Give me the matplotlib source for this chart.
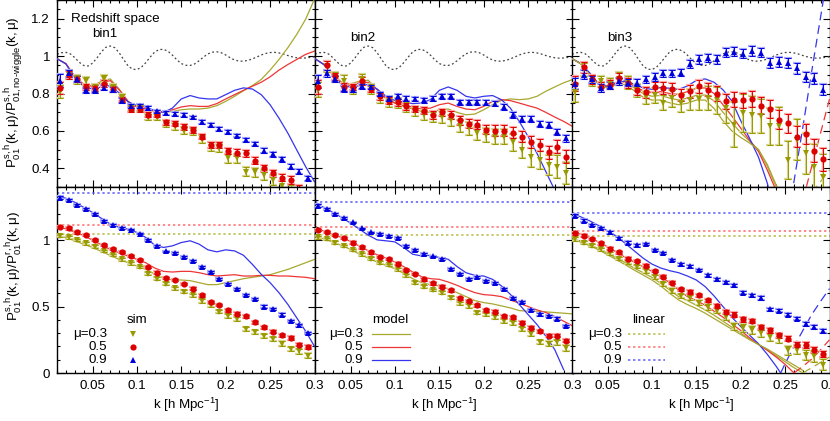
import matplotlib
matplotlib.use('Agg')
import matplotlib.pyplot as plt
from matplotlib.ticker import MultipleLocator, FuncFormatter

plt.rcParams['font.family'] = ['Liberation Sans', 'DejaVu Sans']
plt.rcParams['mathtext.fontset'] = 'custom'
plt.rcParams['mathtext.rm'] = 'Liberation Sans'
plt.rcParams['mathtext.it'] = 'Liberation Sans'
plt.rcParams['mathtext.bf'] = 'Liberation Sans:bold'

# ---- k grids ----
K_SIM = [0.013, 0.023, 0.033, 0.043, 0.053, 0.063, 0.073, 0.083, 0.093, 0.103,
         0.113, 0.123, 0.133, 0.143, 0.153, 0.163, 0.173, 0.183, 0.193, 0.203,
         0.213, 0.223, 0.233, 0.243, 0.253, 0.263, 0.273, 0.283, 0.293]
K_MODEL = [0.01, 0.02, 0.03, 0.04, 0.05, 0.06, 0.07, 0.08, 0.09, 0.10,
           0.11, 0.12, 0.13, 0.14, 0.15, 0.16, 0.17, 0.18, 0.19, 0.20,
           0.21, 0.22, 0.23, 0.24, 0.25, 0.26, 0.27, 0.28, 0.29, 0.30]
K_NW = [0.010, 0.015, 0.020, 0.025, 0.030, 0.035, 0.040, 0.045, 0.050, 0.055,
        0.060, 0.065, 0.070, 0.075, 0.080, 0.085, 0.090, 0.095, 0.100, 0.105,
        0.110, 0.115, 0.120, 0.125, 0.130, 0.135, 0.140, 0.145, 0.150, 0.155,
        0.160, 0.165, 0.170, 0.175, 0.180, 0.185, 0.190, 0.195, 0.200, 0.205,
        0.210, 0.215, 0.220, 0.225, 0.230, 0.235, 0.240, 0.245, 0.250, 0.255,
        0.260, 0.265, 0.270, 0.275, 0.280, 0.285, 0.290, 0.295, 0.300]

# linear P / P_no-wiggle (dotted grey, top row)
NW_RATIO = [1.010, 1.018, 1.020, 1.012, 0.992, 0.967, 0.950, 0.947, 0.962, 0.990,
            1.023, 1.047, 1.054, 1.045, 1.018, 0.982, 0.948, 0.930, 0.928, 0.940,
            0.965, 0.995, 1.022, 1.035, 1.036, 1.026, 1.005, 0.980, 0.960, 0.951,
            0.950, 0.958, 0.975, 0.995, 1.012, 1.021, 1.023, 1.018, 1.006, 0.991,
            0.979, 0.973, 0.973, 0.977, 0.985, 0.995, 1.006, 1.014, 1.019, 1.020,
            1.017, 1.011, 1.003, 0.996, 0.991, 0.989, 0.990, 0.993, 0.996]

# ---- simulation points, top row (ratio to no-wiggle) ----
T1_03 = [0.81, 0.90, 0.875, 0.866, 0.83, 0.878, 0.83, 0.776, 0.722, 0.722, 0.674, 0.674, 0.638, 0.624, 0.602,
         0.597, 0.556, 0.516, 0.507, 0.453, 0.453, 0.382, 0.378, 0.364, 0.337, 0.305, 0.28, 0.26, 0.24]
T1_05 = [0.83, 0.90, 0.878, 0.835, 0.83, 0.853, 0.824, 0.767, 0.717, 0.717, 0.686, 0.686, 0.645, 0.638, 0.62,
         0.606, 0.57, 0.525, 0.525, 0.495, 0.484, 0.48, 0.44, 0.40, 0.373, 0.35, 0.337, 0.29, 0.27]
T1_09 = [0.869, 0.907, 0.878, 0.817, 0.817, 0.83, 0.821, 0.762, 0.735, 0.735, 0.722, 0.704, 0.695, 0.69, 0.686,
         0.672, 0.647, 0.633, 0.611, 0.593, 0.575, 0.552, 0.529, 0.495, 0.475, 0.448, 0.409, 0.382, 0.346]
T2_03 = [0.82, 0.946, 0.889, 0.869, 0.824, 0.875, 0.824, 0.776, 0.753, 0.749, 0.728, 0.704, 0.686, 0.674, 0.674,
         0.656, 0.624, 0.615, 0.588, 0.579, 0.57, 0.57, 0.538, 0.498, 0.459, 0.444, 0.418, 0.409, 0.376]
T2_05 = [0.835, 0.95, 0.892, 0.835, 0.835, 0.866, 0.824, 0.785, 0.762, 0.753, 0.731, 0.717, 0.708, 0.686, 0.699,
         0.686, 0.656, 0.638, 0.633, 0.606, 0.602, 0.602, 0.591, 0.57, 0.543, 0.525, 0.486, 0.516, 0.462]
T2_09 = [0.866, 0.907, 0.875, 0.824, 0.821, 0.839, 0.835, 0.797, 0.772, 0.785, 0.772, 0.771, 0.763, 0.772, 0.785,
         0.785, 0.753, 0.753, 0.753, 0.75, 0.746, 0.728, 0.686, 0.665, 0.665, 0.638, 0.633, 0.593, 0.561]
T3_03 = [0.806, 0.93, 0.869, 0.865, 0.853, 0.878, 0.857, 0.817, 0.78, 0.79, 0.75, 0.774, 0.749, 0.767, 0.771,
         0.776, 0.763, 0.72, 0.633, 0.696, 0.687, 0.681, 0.624, 0.627, 0.445, 0.552, 0.48, 0.409, 0.355]
T3_05 = [0.853, 0.94, 0.875, 0.835, 0.848, 0.883, 0.857, 0.817, 0.806, 0.835, 0.83, 0.824, 0.794, 0.813, 0.839,
         0.821, 0.80, 0.758, 0.767, 0.763, 0.771, 0.735, 0.717, 0.66, 0.64, 0.57, 0.583, 0.495, 0.448]
T3_09 = [0.853, 0.901, 0.875, 0.83, 0.842, 0.866, 0.857, 0.857, 0.875, 0.889, 0.907, 0.907, 0.911, 0.959, 0.982,
         0.988, 0.982, 1.018, 1.024, 1.013, 1.027, 1.018, 0.964, 0.97, 0.964, 0.934, 0.889, 0.88, 0.821]

E_T1_03 = [0.035, 0.025, 0.022, 0.022, 0.02, 0.022, 0.02, 0.02, 0.018, 0.018, 0.018, 0.018, 0.018, 0.018, 0.02,
           0.02, 0.02, 0.022, 0.022, 0.022, 0.022, 0.025, 0.025, 0.025, 0.028, 0.028, 0.03, 0.03, 0.03]
E_T1_05 = [0.03, 0.02, 0.018, 0.018, 0.016, 0.018, 0.016, 0.015, 0.015, 0.015, 0.014, 0.014, 0.014, 0.014, 0.015,
           0.015, 0.015, 0.016, 0.016, 0.016, 0.017, 0.018, 0.018, 0.018, 0.02, 0.02, 0.022, 0.022, 0.022]
E_T1_09 = [0.035, 0.018, 0.016, 0.014, 0.013, 0.013, 0.012, 0.012, 0.011, 0.011, 0.01, 0.01, 0.01, 0.01, 0.01,
           0.01, 0.01, 0.01, 0.01, 0.01, 0.01, 0.011, 0.011, 0.011, 0.012, 0.012, 0.012, 0.013, 0.013]
E_T2_03 = [0.04, 0.03, 0.028, 0.028, 0.025, 0.028, 0.025, 0.025, 0.025, 0.025, 0.025, 0.025, 0.028, 0.028, 0.03,
           0.03, 0.032, 0.035, 0.035, 0.038, 0.04, 0.04, 0.045, 0.045, 0.05, 0.05, 0.055, 0.06, 0.06]
E_T2_05 = [0.035, 0.022, 0.02, 0.02, 0.018, 0.02, 0.018, 0.018, 0.018, 0.018, 0.018, 0.018, 0.02, 0.02, 0.02,
           0.022, 0.022, 0.025, 0.025, 0.025, 0.028, 0.028, 0.03, 0.03, 0.032, 0.032, 0.035, 0.035, 0.035]
E_T2_09 = [0.035, 0.018, 0.016, 0.015, 0.014, 0.014, 0.013, 0.013, 0.012, 0.012, 0.012, 0.012, 0.012, 0.012, 0.012,
           0.012, 0.012, 0.013, 0.013, 0.013, 0.014, 0.014, 0.015, 0.015, 0.015, 0.016, 0.016, 0.017, 0.018]
E_T3_03 = [0.05, 0.035, 0.03, 0.03, 0.03, 0.035, 0.035, 0.035, 0.035, 0.04, 0.04, 0.045, 0.05, 0.055, 0.06,
           0.065, 0.07, 0.08, 0.12, 0.1, 0.1, 0.09, 0.1, 0.1, 0.1, 0.11, 0.11, 0.12, 0.12]
E_T3_05 = [0.04, 0.03, 0.025, 0.025, 0.025, 0.025, 0.025, 0.025, 0.028, 0.028, 0.03, 0.03, 0.032, 0.035, 0.035,
           0.035, 0.038, 0.04, 0.04, 0.042, 0.045, 0.045, 0.048, 0.05, 0.05, 0.055, 0.055, 0.06, 0.06]
E_T3_09 = [0.03, 0.022, 0.02, 0.02, 0.018, 0.018, 0.018, 0.018, 0.018, 0.02, 0.02, 0.02, 0.02, 0.022, 0.022,
           0.022, 0.022, 0.024, 0.024, 0.024, 0.025, 0.025, 0.025, 0.026, 0.026, 0.028, 0.028, 0.03, 0.03]

# ---- simulation points, bottom row (ratio to real space) ----
B1_03 = [1.033, 1.02, 1.0, 0.977, 0.95, 0.919, 0.887, 0.856, 0.826, 0.798, 0.748, 0.71, 0.673, 0.637, 0.61,
         0.584, 0.542, 0.511, 0.461, 0.428, 0.408, 0.332, 0.307, 0.282, 0.257, 0.222, 0.181, 0.164, 0.131]
B1_05 = [1.10, 1.088, 1.058, 1.04, 1.0, 0.965, 0.932, 0.912, 0.882, 0.849, 0.801, 0.756, 0.713, 0.698, 0.668,
         0.635, 0.584, 0.534, 0.511, 0.471, 0.446, 0.428, 0.383, 0.345, 0.31, 0.285, 0.264, 0.214, 0.194]
B1_09 = [1.32, 1.305, 1.265, 1.235, 1.195, 1.145, 1.115, 1.09, 1.08, 1.05, 1.0, 0.955, 0.915, 0.905, 0.875,
         0.84, 0.80, 0.76, 0.71, 0.67, 0.63, 0.59, 0.56, 0.50, 0.48, 0.44, 0.39, 0.36, 0.30]
B2_03 = [1.02, 1.008, 0.982, 0.957, 0.927, 0.894, 0.861, 0.831, 0.814, 0.781, 0.736, 0.68, 0.65, 0.625, 0.605,
         0.567, 0.524, 0.504, 0.453, 0.441, 0.423, 0.39, 0.378, 0.332, 0.297, 0.232, 0.222, 0.232, 0.189]
B2_05 = [1.076, 1.063, 1.038, 1.013, 0.982, 0.945, 0.907, 0.874, 0.861, 0.824, 0.776, 0.743, 0.705, 0.675, 0.65,
         0.622, 0.562, 0.542, 0.509, 0.471, 0.461, 0.428, 0.421, 0.378, 0.34, 0.315, 0.282, 0.282, 0.244]
B2_09 = [1.259, 1.234, 1.2, 1.164, 1.133, 1.088, 1.058, 1.045, 1.033, 1.013, 0.957, 0.924, 0.894, 0.877, 0.856,
         0.781, 0.743, 0.71, 0.723, 0.693, 0.68, 0.635, 0.567, 0.534, 0.474, 0.441, 0.428, 0.408, 0.353]
B3_03 = [1.008, 0.982, 0.957, 0.932, 0.902, 0.861, 0.831, 0.801, 0.768, 0.725, 0.668, 0.62, 0.579, 0.566, 0.529,
         0.496, 0.47, 0.42, 0.352, 0.34, 0.327, 0.302, 0.272, 0.259, 0.171, 0.176, 0.138, 0.126, 0.063]
B3_05 = [1.053, 1.033, 1.008, 0.975, 0.937, 0.907, 0.861, 0.844, 0.806, 0.768, 0.725, 0.68, 0.629, 0.609, 0.584,
         0.546, 0.508, 0.458, 0.44, 0.403, 0.39, 0.345, 0.32, 0.284, 0.259, 0.214, 0.209, 0.176, 0.143]
B3_09 = [1.184, 1.146, 1.113, 1.091, 1.058, 1.013, 0.982, 0.962, 0.97, 0.927, 0.902, 0.851, 0.818, 0.805, 0.775,
         0.737, 0.705, 0.684, 0.659, 0.604, 0.584, 0.566, 0.478, 0.47, 0.44, 0.41, 0.37, 0.345, 0.314]

E_B12_03 = [0.012, 0.01, 0.01, 0.01, 0.01, 0.01, 0.01, 0.01, 0.01, 0.01, 0.01, 0.01, 0.01, 0.011, 0.011,
            0.011, 0.012, 0.012, 0.012, 0.013, 0.013, 0.014, 0.014, 0.015, 0.016, 0.017, 0.018, 0.019, 0.02]
E_B12_05 = [0.01, 0.008, 0.008, 0.008, 0.008, 0.008, 0.008, 0.008, 0.008, 0.008, 0.008, 0.008, 0.009, 0.009, 0.009,
            0.009, 0.01, 0.01, 0.01, 0.01, 0.011, 0.011, 0.011, 0.012, 0.012, 0.012, 0.013, 0.013, 0.014]
E_B12_09 = [0.01, 0.007, 0.007, 0.007, 0.007, 0.007, 0.007, 0.007, 0.007, 0.007, 0.007, 0.007, 0.007, 0.007, 0.007,
            0.007, 0.007, 0.008, 0.008, 0.008, 0.008, 0.008, 0.008, 0.009, 0.009, 0.009, 0.009, 0.01, 0.01]
E_B3_03 = [0.015, 0.012, 0.012, 0.012, 0.012, 0.012, 0.013, 0.013, 0.014, 0.015, 0.016, 0.017, 0.018, 0.019, 0.02,
           0.021, 0.022, 0.024, 0.026, 0.028, 0.03, 0.03, 0.032, 0.034, 0.035, 0.036, 0.038, 0.04, 0.04]
E_B3_05 = [0.012, 0.01, 0.01, 0.01, 0.01, 0.01, 0.01, 0.01, 0.011, 0.011, 0.012, 0.012, 0.013, 0.013, 0.014,
           0.014, 0.015, 0.015, 0.016, 0.016, 0.017, 0.018, 0.018, 0.019, 0.02, 0.02, 0.021, 0.022, 0.022]
E_B3_09 = [0.012, 0.01, 0.01, 0.01, 0.01, 0.01, 0.01, 0.01, 0.01, 0.01, 0.01, 0.01, 0.01, 0.011, 0.011,
           0.011, 0.011, 0.012, 0.012, 0.012, 0.012, 0.013, 0.013, 0.013, 0.014, 0.014, 0.014, 0.015, 0.015]

# ---- model curves, top row ----
M_T1_03 = [0.986, 0.96, 0.89, 0.85, 0.84, 0.866, 0.878, 0.824, 0.758, 0.728, 0.717, 0.704, 0.699, 0.704, 0.713,
           0.717, 0.717, 0.722, 0.735, 0.758, 0.785, 0.815, 0.842, 0.875, 0.925, 0.982, 1.045, 1.116, 1.197, 1.305]
M_T1_05 = [0.986, 0.96, 0.89, 0.848, 0.838, 0.857, 0.869, 0.82, 0.758, 0.728, 0.72, 0.706, 0.703, 0.713, 0.728,
           0.735, 0.731, 0.731, 0.746, 0.771, 0.794, 0.817, 0.839, 0.86, 0.889, 0.925, 0.955, 0.982, 1.009, 1.027]
M_T1_09 = [0.986, 0.958, 0.885, 0.838, 0.824, 0.835, 0.842, 0.803, 0.755, 0.735, 0.728, 0.708, 0.699, 0.722, 0.771,
           0.789, 0.776, 0.771, 0.771, 0.794, 0.817, 0.83, 0.824, 0.794, 0.74, 0.668, 0.588, 0.498, 0.409, 0.328]
M_T2_03 = [0.986, 0.955, 0.907, 0.86, 0.851, 0.866, 0.871, 0.821, 0.771, 0.749, 0.731, 0.717, 0.704, 0.699, 0.713,
           0.717, 0.699, 0.686, 0.69, 0.713, 0.74, 0.763, 0.771, 0.767, 0.771, 0.785, 0.812, 0.835, 0.857, 0.875]
M_T2_05 = [0.986, 0.955, 0.901, 0.853, 0.842, 0.857, 0.86, 0.821, 0.776, 0.749, 0.735, 0.728, 0.717, 0.722, 0.74,
           0.749, 0.731, 0.717, 0.713, 0.731, 0.758, 0.767, 0.762, 0.749, 0.735, 0.722, 0.699, 0.674, 0.651, 0.624]
M_T2_09 = [0.986, 0.955, 0.901, 0.848, 0.833, 0.842, 0.848, 0.824, 0.785, 0.762, 0.754, 0.746, 0.749, 0.767, 0.817,
           0.835, 0.817, 0.785, 0.776, 0.785, 0.789, 0.767, 0.722, 0.651, 0.57, 0.48, 0.382, 0.283, 0.18, 0.08]
M_T3_03 = [0.986, 0.96, 0.905, 0.855, 0.84, 0.86, 0.862, 0.83, 0.80, 0.785, 0.79, 0.775, 0.765, 0.775, 0.79,
           0.792, 0.76, 0.70, 0.645, 0.59, 0.545, 0.50, 0.41, 0.30, 0.20]
M_T3_03B = [0.986, 0.958, 0.90, 0.848, 0.83, 0.848, 0.848, 0.815, 0.78, 0.765, 0.765, 0.75, 0.74, 0.748, 0.765,
            0.765, 0.72, 0.655, 0.60, 0.565, 0.535, 0.50, 0.42, 0.31, 0.20]
M_T3_05 = [0.986, 0.96, 0.905, 0.85, 0.838, 0.858, 0.865, 0.84, 0.815, 0.805, 0.81, 0.80, 0.795, 0.81, 0.828,
           0.83, 0.80, 0.74, 0.68, 0.615, 0.55, 0.49, 0.39, 0.28, 0.17]
M_T3_09 = [0.986, 0.96, 0.91, 0.85, 0.835, 0.855, 0.868, 0.85, 0.83, 0.822, 0.832, 0.828, 0.822, 0.84, 0.87,
           0.878, 0.86, 0.82, 0.76, 0.655, 0.56, 0.46, 0.32, 0.12]
# |model| where it turns negative (long dashes)
K_D_T3_03 = [0.28, 0.29, 0.30]
D_T3_03 = [0.27, 0.33, 0.39]
K_D_T3_05 = [0.27, 0.28, 0.29, 0.30]
D_T3_05 = [0.23, 0.41, 0.59, 0.77]
K_D_T3_09 = [0.25, 0.26, 0.27, 0.28, 0.29, 0.30]
D_T3_09 = [0.03, 0.33, 0.62, 0.92, 1.21, 1.50]

# ---- model curves, bottom row ----
M_B1_03 = [1.035, 1.02, 0.995, 0.97, 0.945, 0.915, 0.885, 0.855, 0.83, 0.805, 0.78, 0.745, 0.715, 0.70, 0.70,
           0.695, 0.68, 0.665, 0.665, 0.68, 0.695, 0.71, 0.72, 0.73, 0.74, 0.76, 0.78, 0.805, 0.83, 0.855]
M_B1_05 = [1.103, 1.085, 1.06, 1.035, 1.0, 0.965, 0.93, 0.905, 0.88, 0.855, 0.83, 0.79, 0.765, 0.76, 0.765,
           0.765, 0.755, 0.74, 0.73, 0.735, 0.74, 0.73, 0.73, 0.735, 0.735, 0.73, 0.73, 0.725, 0.72, 0.71]
M_B1_09 = [1.335, 1.315, 1.285, 1.247, 1.209, 1.164, 1.121, 1.096, 1.083, 1.058, 1.02, 0.962, 0.945, 0.957, 0.982,
           0.995, 0.97, 0.927, 0.912, 0.927, 0.919, 0.886, 0.818, 0.743, 0.68, 0.604, 0.516, 0.415, 0.315, 0.2]
M_B2_03 = [1.025, 1.01, 0.985, 0.96, 0.93, 0.895, 0.865, 0.835, 0.81, 0.785, 0.75, 0.71, 0.68, 0.665, 0.655,
           0.635, 0.605, 0.575, 0.545, 0.53, 0.52, 0.505, 0.49, 0.47, 0.465, 0.465, 0.46, 0.455, 0.45, 0.445]
M_B2_05 = [1.085, 1.07, 1.045, 1.02, 0.99, 0.955, 0.92, 0.89, 0.865, 0.835, 0.80, 0.76, 0.725, 0.71, 0.705,
           0.685, 0.66, 0.63, 0.605, 0.59, 0.585, 0.575, 0.55, 0.525, 0.50, 0.475, 0.455, 0.425, 0.39, 0.355]
M_B2_09 = [1.272, 1.247, 1.209, 1.171, 1.128, 1.083, 1.037, 1.002, 0.995, 0.987, 0.944, 0.894, 0.881, 0.886, 0.869,
           0.856, 0.801, 0.755, 0.735, 0.73, 0.705, 0.655, 0.592, 0.516, 0.44, 0.365, 0.277, 0.176, 0.025]
M_B3_03 = [1.01, 0.99, 0.965, 0.935, 0.90, 0.865, 0.83, 0.79, 0.755, 0.72, 0.675, 0.625, 0.575, 0.545, 0.51,
           0.475, 0.435, 0.39, 0.345, 0.30, 0.255, 0.215, 0.175, 0.13, 0.085, 0.04, 0.0]
M_B3_03B = [1.005, 0.985, 0.958, 0.927, 0.89, 0.853, 0.815, 0.775, 0.738, 0.70, 0.655, 0.60, 0.55, 0.515, 0.485,
            0.45, 0.41, 0.37, 0.33, 0.29, 0.25, 0.215, 0.18, 0.14, 0.10, 0.06, 0.02]
M_B3_05 = [1.06, 1.045, 1.02, 0.985, 0.95, 0.91, 0.87, 0.835, 0.80, 0.765, 0.725, 0.68, 0.625, 0.575, 0.545,
           0.51, 0.465, 0.42, 0.37, 0.32, 0.265, 0.215, 0.17, 0.12, 0.065, 0.0]
K_B3_09 = [0.01, 0.02, 0.03, 0.04, 0.05, 0.06, 0.07, 0.08, 0.09, 0.10, 0.11, 0.12, 0.13,
           0.14, 0.15, 0.16, 0.17, 0.18, 0.19, 0.20, 0.21, 0.22, 0.23, 0.24, 0.245]
M_B3_09 = [1.2, 1.175, 1.145, 1.11, 1.07, 1.03, 0.975, 0.92, 0.865, 0.82, 0.79, 0.77, 0.755,
           0.73, 0.70, 0.65, 0.58, 0.50, 0.42, 0.35, 0.285, 0.22, 0.14, 0.05, 0.0]
K_D_B3_03 = [0.27, 0.28, 0.29, 0.30]
D_B3_03 = [0.0, 0.04, 0.08, 0.12]
K_D_B3_05 = [0.26, 0.27, 0.28, 0.29, 0.30]
D_B3_05 = [0.0, 0.05, 0.105, 0.175, 0.25]
K_D_B3_09 = [0.245, 0.25, 0.26, 0.27, 0.28, 0.29, 0.30]
D_B3_09 = [0.0, 0.07, 0.2, 0.32, 0.44, 0.54, 0.635]

# linear (Kaiser) level per bin, mu = 0.3, 0.5, 0.9
LIN_B1 = [1.045, 1.116, 1.353]
LIN_B2 = [1.038, 1.096, 1.285]
LIN_B3 = [1.028, 1.071, 1.204]

MU_LABELS = ['\u03bc=0.3', '0.5', '0.9']
BIN_NAMES = ['bin1', 'bin2', 'bin3']

MARKERS = ['v', 'o', '^']
DARK = ['#999900', '#dd0000', '#0000dd']
LIGHT = ['#d6d690', '#ffa8a8', '#a8a8ff']
LINE = ['#a8a830', '#ee3535', '#3535ee']
LIN_COL = ['#b8b840', '#ff6a6a', '#5a5aff']
GREY = '#444444'
FS = 9.6

fmt = FuncFormatter(lambda v, _: f'{v:g}')


def style(ax, top, first_col):
    ax.set_xlim(0.01, 0.3)
    if top:
        ax.set_ylim(0.3, 1.3)
        ax.yaxis.set_major_locator(MultipleLocator(0.2))
        ax.yaxis.set_minor_locator(MultipleLocator(0.05))
    else:
        ax.set_ylim(0.0, 1.4)
        ax.yaxis.set_major_locator(MultipleLocator(0.5))
        ax.yaxis.set_minor_locator(MultipleLocator(0.1))
    ax.xaxis.set_major_locator(MultipleLocator(0.05))
    ax.xaxis.set_minor_locator(MultipleLocator(0.01))
    ax.xaxis.set_major_formatter(fmt)
    ax.yaxis.set_major_formatter(fmt)
    ax.tick_params(which='both', direction='in', top=True, right=True,
                   width=0.8, labelsize=FS, pad=5)
    ax.tick_params(which='major', length=5)
    ax.tick_params(which='minor', length=2.5)
    ax.tick_params(labelbottom=not top, labelleft=first_col)
    for sp in ax.spines.values():
        sp.set_linewidth(1.0)
    if not top:
        ax.set_xlabel('k [h Mpc$^{-1}$]', fontsize=FS, labelpad=3)


def draw_sim(ax, sims, errs):
    for i, (vals, err) in enumerate(zip(sims, errs)):
        ax.errorbar(K_SIM, vals, yerr=err, fmt='none', ecolor=LIGHT[i],
                    elinewidth=1.6, capsize=3.0, capthick=1.6, zorder=4)
        ax.errorbar(K_SIM, vals, yerr=err, fmt='none', ecolor=DARK[i],
                    elinewidth=0.7, capsize=2.4, capthick=0.7, zorder=5)
        ax.plot(K_SIM, vals, linestyle='none', marker=MARKERS[i],
                color=DARK[i], ms=4.5, mew=0, zorder=6)


def draw_models(ax, models):
    for i, (ks, vals) in enumerate(models):
        ax.plot(ks, vals, color=LINE[i], lw=0.9, zorder=3)


def draw_dashed(ax, dashed):
    for i, (ks, vals) in enumerate(dashed):
        ax.plot(ks, vals, color=LINE[i], lw=0.9, dashes=(7, 4), zorder=3)


fig = plt.figure(figsize=(8.3, 4.21), dpi=100)
W, H = 830.0, 421.0
lefts = [57, 315, 572]
pw = 257.5

top_sims = [[T1_03, T1_05, T1_09], [T2_03, T2_05, T2_09], [T3_03, T3_05, T3_09]]
top_errs = [[E_T1_03, E_T1_05, E_T1_09], [E_T2_03, E_T2_05, E_T2_09],
            [E_T3_03, E_T3_05, E_T3_09]]
bot_sims = [[B1_03, B1_05, B1_09], [B2_03, B2_05, B2_09], [B3_03, B3_05, B3_09]]
bot_errs = [[E_B12_03, E_B12_05, E_B12_09], [E_B12_03, E_B12_05, E_B12_09],
            [E_B3_03, E_B3_05, E_B3_09]]
top_models = [
    [(K_MODEL, M_T1_03), (K_MODEL, M_T1_05), (K_MODEL, M_T1_09)],
    [(K_MODEL, M_T2_03), (K_MODEL, M_T2_05), (K_MODEL, M_T2_09)],
    [(K_MODEL[:len(M_T3_03)], M_T3_03), (K_MODEL[:len(M_T3_05)], M_T3_05),
     (K_MODEL[:len(M_T3_09)], M_T3_09)],
]
bot_models = [
    [(K_MODEL, M_B1_03), (K_MODEL, M_B1_05), (K_MODEL, M_B1_09)],
    [(K_MODEL, M_B2_03), (K_MODEL, M_B2_05), (K_MODEL[:len(M_B2_09)], M_B2_09)],
    [(K_MODEL[:len(M_B3_03)], M_B3_03), (K_MODEL[:len(M_B3_05)], M_B3_05),
     (K_B3_09, M_B3_09)],
]
lin_levels = [LIN_B1, LIN_B2, LIN_B3]

for c in range(3):
    axt = fig.add_axes([lefts[c] / W, (H - 187) / H, pw / W, 187 / H])
    axb = fig.add_axes([lefts[c] / W, (H - 373) / H, pw / W, 186 / H])
    style(axt, True, c == 0)
    style(axb, False, c == 0)

    # top row
    axt.plot(K_NW, NW_RATIO, color=GREY, lw=0.9, dashes=(1.5, 2.0), zorder=2)
    draw_models(axt, top_models[c])
    draw_sim(axt, top_sims[c], top_errs[c])
    axt.text(0.136 if c == 0 else 0.138, 0.82 if c == 0 else 0.795, BIN_NAMES[c],
             transform=axt.transAxes, fontsize=FS, ha='left', va='center')

    # bottom row
    for i, lev in enumerate(lin_levels[c]):
        axb.axhline(lev, color=LIN_COL[i], lw=1.1, dashes=(1.5, 1.8), zorder=2)
    draw_models(axb, bot_models[c])
    draw_sim(axb, bot_sims[c], bot_errs[c])

    if c == 2:
        axt.plot(K_MODEL[:len(M_T3_03B)], M_T3_03B, color=LINE[0], lw=0.9, zorder=3)
        axb.plot(K_MODEL[:len(M_B3_03B)], M_B3_03B, color=LINE[0], lw=0.9, zorder=3)
        draw_dashed(axt, [(K_D_T3_03, D_T3_03), (K_D_T3_05, D_T3_05), (K_D_T3_09, D_T3_09)])
        draw_dashed(axb, [(K_D_B3_03, D_B3_03), (K_D_B3_05, D_B3_05), (K_D_B3_09, D_B3_09)])

    # keys
    rows = [0.21, 0.141, 0.07]
    if c == 0:
        axt.text(0.054, 0.898, 'Redshift space', transform=axt.transAxes,
                 fontsize=FS, ha='left', va='center')
        axb.text(0.31, 0.283, 'sim', transform=axb.transAxes, fontsize=FS,
                 ha='center', va='center')
        for i in range(3):
            axb.text(0.194, rows[i], MU_LABELS[i], transform=axb.transAxes,
                     fontsize=FS, ha='right', va='center')
            axb.plot([0.295], [rows[i]], marker=MARKERS[i], color=DARK[i], ms=4.5,
                     mew=0, transform=axb.transAxes, clip_on=False)
    elif c == 1:
        axb.text(0.292, 0.283, 'model', transform=axb.transAxes, fontsize=FS,
                 ha='center', va='center')
        for i in range(3):
            axb.text(0.187, rows[i], MU_LABELS[i], transform=axb.transAxes,
                     fontsize=FS, ha='right', va='center')
            axb.plot([0.222, 0.37], [rows[i], rows[i]], color=LINE[i], lw=0.9,
                     transform=axb.transAxes)
    else:
        axb.text(0.296, 0.283, 'linear', transform=axb.transAxes, fontsize=FS,
                 ha='center', va='center')
        for i in range(3):
            axb.text(0.195, rows[i], MU_LABELS[i], transform=axb.transAxes,
                     fontsize=FS, ha='right', va='center')
            axb.plot([0.218, 0.362], [rows[i], rows[i]], color=LIN_COL[i], lw=1.1,
                     dashes=(1.5, 1.8), transform=axb.transAxes)

fig.text(14 / W, 1 - 92 / H,
         '$P^{s,h}_{01}(k,\\mu)/P^{s,h}_{01,no\u2010wiggle}(k,\\mu)$',
         rotation=90, ha='center', va='center', fontsize=FS)
fig.text(14 / W, 1 - 266 / H, r'$P^{s,h}_{01}(k,\mu)/P^{r,h}_{01}(k,\mu)$',
         rotation=90, ha='center', va='center', fontsize=FS)

fig.savefig('out.png', dpi=100)
